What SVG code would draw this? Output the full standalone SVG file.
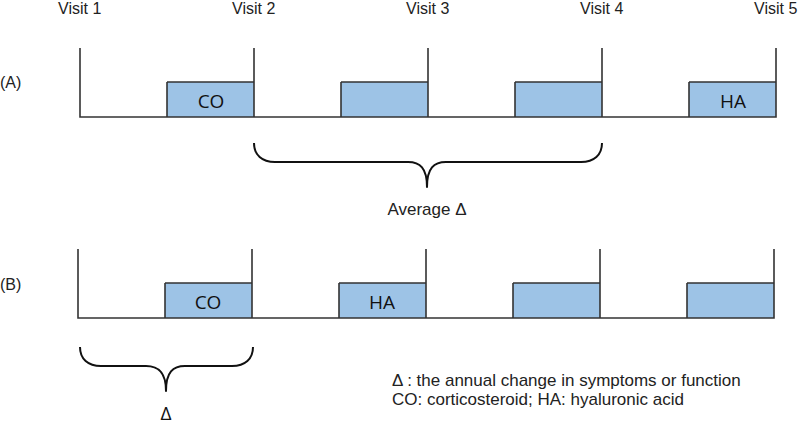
<svg xmlns="http://www.w3.org/2000/svg" width="800" height="423" viewBox="0 0 800 423">
<style>
.ax{fill:none;stroke:#333;stroke-width:1.6}
.bar{fill:#9dc3e6;stroke:none}
.br{fill:none;stroke:#111;stroke-width:2;stroke-linejoin:round}
.t{font-family:"Liberation Sans",Arial,sans-serif;font-size:16px;fill:#222}
.l{font-family:"Liberation Sans",Arial,sans-serif;font-size:17px;fill:#222}
.c{font-family:"Open Sans","Liberation Sans",sans-serif;font-size:19px;fill:#111;text-anchor:middle}
</style>
<rect width="800" height="423" fill="#fff"/>
<g id="visit-labels">
<text class="t" x="58" y="14">Visit 1</text>
<text class="t" x="232" y="14">Visit 2</text>
<text class="t" x="406" y="14">Visit 3</text>
<text class="t" x="580" y="14">Visit 4</text>
<text class="t" x="754" y="14">Visit 5</text>
</g>
<g id="panelA">
<text class="t" x="0" y="88">(A)</text>
<rect class="bar" x="167" y="82" width="87" height="35"/>
<rect class="bar" x="341" y="82" width="87" height="35"/>
<rect class="bar" x="515" y="82" width="87" height="35"/>
<rect class="bar" x="689" y="82" width="87" height="35"/>
<path class="ax" d="M80,48V117H776V48M254,48V117M428,48V117M602,48V117M167,82V117M341,82V117M515,82V117M689,82V117M167,82H254M341,82H428M515,82H602M689,82H776"/>
<text class="c" x="211" y="108">CO</text>
<text class="c" x="733" y="108">HA</text>
</g>
<g id="panelB">
<text class="t" x="0" y="290">(B)</text>
<rect class="bar" x="165" y="283" width="87" height="35"/>
<rect class="bar" x="339" y="283" width="87" height="35"/>
<rect class="bar" x="513" y="283" width="87" height="35"/>
<rect class="bar" x="687" y="283" width="87" height="35"/>
<path class="ax" d="M78,249V318H774V249M252,249V318M426,249V318M600,249V318M165,283V318M339,283V318M513,283V318M687,283V318M165,283H252M339,283H426M513,283H600M687,283H774"/>
<text class="c" x="208" y="309">CO</text>
<text class="c" x="382" y="309">HA</text>
</g>
<g id="connectors">
<path class="br" d="M254,143C254,155 262,162 275,162L408,162C420,162 427,168 427,187C427,168 434,162 446,162L581,162C594,162 602,155 602,143"/>
<path class="br" d="M80,347C80,359 88,366 101,366L146,366C158,366 166,372 166,391C166,372 173,366 185,366L232,366C245,366 253,359 253,347"/>
</g>
<g id="labels">
<text class="l" x="427" y="215" text-anchor="middle">Average Δ</text>
<text class="c" x="166" y="420">Δ</text>
<text class="l" x="392" y="386">Δ : the annual change in symptoms or function</text>
<text class="l" x="392" y="405">CO: corticosteroid; HA: hyaluronic acid</text>
</g>
</svg>
